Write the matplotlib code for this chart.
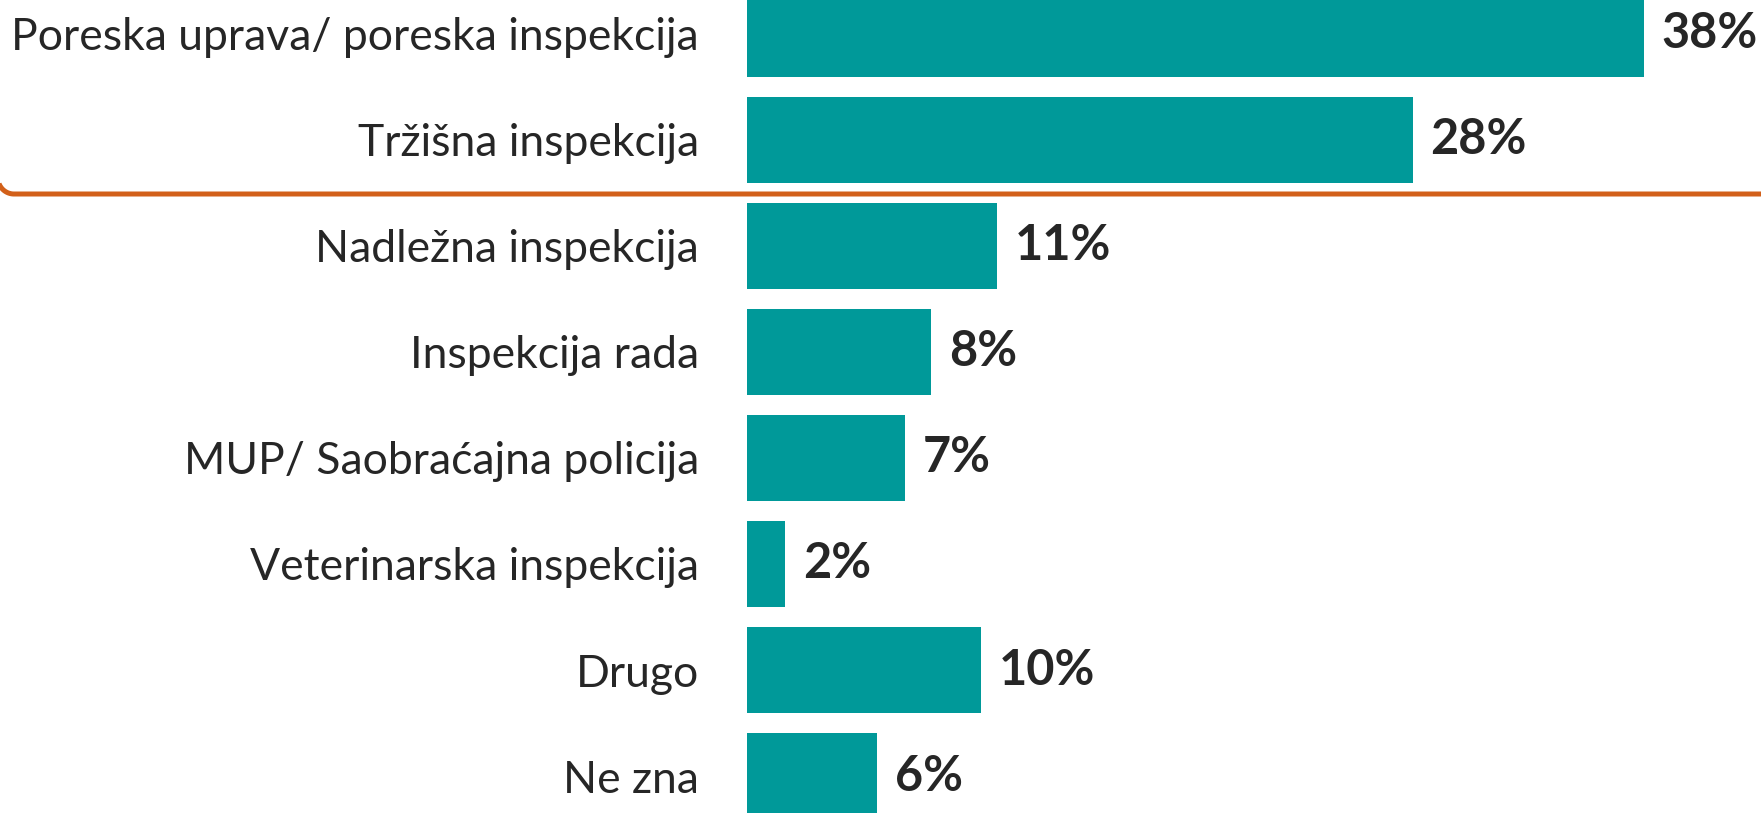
import matplotlib
matplotlib.use("Agg")
import numpy as np
import matplotlib.pyplot as plt
from matplotlib.lines import Line2D
from matplotlib.transforms import IdentityTransform


# Chart data
categories = [
    "Poreska uprava/ poreska inspekcija",
    "Tržišna inspekcija",
    "Nadležna inspekcija",
    "Inspekcija rada",
    "MUP/ Saobraćajna policija",
    "Veterinarska inspekcija",
    "Drugo",
    "Ne zna",
]
values = [38.0, 28.2, 10.6, 7.8, 6.7, 1.6, 9.9, 5.5]
value_labels = ["38%", "28%", "11%", "8%", "7%", "2%", "10%", "6%"]

TEAL = "#009999"
ORANGE = "#D2601A"
TEXT = "#262626"
FONT = "Lato"

W, H, DPI = 1761, 813, 100
fig = plt.figure(figsize=(W / DPI, H / DPI), dpi=DPI)

# axes starts where the bars start, runs to the right edge
ax = fig.add_axes([747 / W, 0, 1 - 747 / W, 1])
px_per_pct = 23.6
ax.set_xlim(0, (W - 747) / px_per_pct)
ax.set_ylim((H - 34) / 106, -34 / 106)

pos = list(range(len(categories)))
ax.barh(pos, values, height=0.81, color=TEAL)

for p, v, lab in zip(pos, values, value_labels):
    ax.annotate(lab, (v, p), xytext=(18, 0), textcoords="offset pixels",
                va="center", ha="left", fontsize=35, fontweight="bold",
                color=TEXT, family=FONT, annotation_clip=False)

ax.set_yticks(pos)
ax.set_yticklabels(categories, fontsize=32, color=TEXT, family=FONT)
ax.tick_params(axis="y", length=0, pad=48 * 72 / DPI)
ax.set_xticks([])
for s in ax.spines.values():
    s.set_visible(False)

# orange frame bottom edge with rounded left corner (pixel coords)
r = 16
x0, yb = -2, H - 194
t = np.linspace(np.pi, 1.5 * np.pi, 30)
xs = np.concatenate([[x0, x0], x0 + r + r * np.cos(t), [W + 20]])
ys = np.concatenate([[H + 20, yb + r], yb + r + r * np.sin(t), [yb]])
fig.add_artist(Line2D(xs, ys, transform=IdentityTransform(), color=ORANGE,
                      linewidth=3.6, solid_capstyle="butt"))

fig.savefig("out.png", dpi=DPI)
